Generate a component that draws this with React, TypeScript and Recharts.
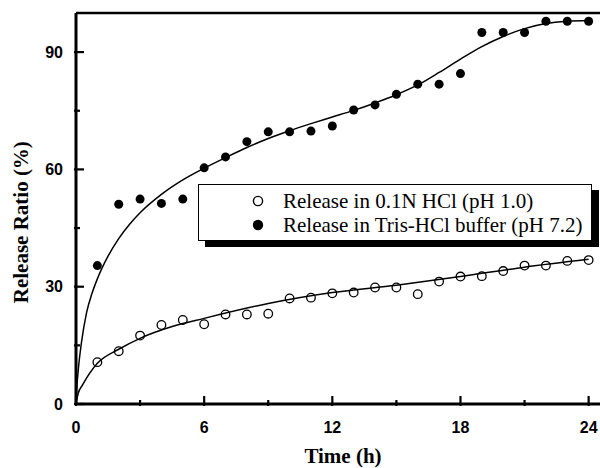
import React from 'react';
import { ComposedChart, Line, Scatter, XAxis, YAxis, ReferenceLine, Legend, Label } from 'recharts';

// Measured release data (time in h, release ratio in %)
const sampleTimes = [1, 2, 3, 4, 5, 6, 7, 8, 9, 10, 11, 12, 13, 14, 15, 16, 17, 18, 19, 20, 21, 22, 23, 24];
const releaseHCl = [10.7, 13.5, 17.5, 20.2, 21.5, 20.4, 22.9, 22.9, 23.1, 27.0, 27.2, 28.3, 28.5, 29.8, 29.8, 28.1, 31.3, 32.6, 32.7, 34.0, 35.4, 35.4, 36.6, 36.8];
const releaseTris = [35.4, 51.1, 52.4, 51.3, 52.4, 60.4, 63.2, 67.1, 69.6, 69.6, 69.8, 71.1, 75.2, 76.5, 79.2, 81.8, 81.8, 84.5, 95.0, 95.0, 95.0, 97.9, 97.9, 97.9];

// Fitted curves
const fitHClTimes = [0, 0.1, 0.3, 1, 2, 3, 4.5, 6, 9, 12, 15, 18, 21, 24];
const fitHClValues = [0, 2.7, 4.8, 10.4, 14.0, 16.8, 19.8, 21.9, 25.7, 28.5, 30.4, 32.6, 35.0, 37.0];
const fitTrisTimes = [0, 0.05, 0.12, 0.25, 0.5, 0.75, 1, 1.5, 2, 2.5, 3, 4, 5, 6, 7, 8, 9, 10, 11, 12, 13, 14, 15, 16, 17, 18, 19, 20, 21, 22, 23, 24];
const fitTrisValues = [0, 5.0, 9.5, 15.5, 23.5, 28.3, 32.0, 37.8, 42.3, 45.9, 48.9, 53.6, 57.3, 60.3, 63.0, 65.6, 67.9, 69.9, 71.7, 73.4, 75.1, 77.0, 79.1, 81.6, 84.8, 88.2, 91.4, 94.0, 96.0, 97.3, 97.9, 98.1];

// Axis ticks
const xTicks = [0, 3, 6, 9, 12, 15, 18, 21, 24];
const xLabelTicks = [0, 6, 12, 18, 24];
const yTicks = [0, 15, 30, 45, 60, 75, 90];
const yLabelTicks = [0, 30, 60, 90];

const legendLabels = ['Release in 0.1N HCl (pH 1.0)', 'Release in Tris-HCl buffer (pH 7.2)'];
const xTitle = 'Time (h)';
const yTitle = 'Release Ratio (%)';

const toPoints = (xs: number[], ys: number[]) => xs.map((x, i) => ({ x, y: ys[i] }));
const hclPoints = toPoints(sampleTimes, releaseHCl);
const trisPoints = toPoints(sampleTimes, releaseTris);
const hclFit = toPoints(fitHClTimes, fitHClValues);
const trisFit = toPoints(fitTrisTimes, fitTrisValues);

const tickFont = '"Liberation Sans", Arial, sans-serif';
const serifFont = '"Liberation Serif", "Times New Roman", serif';

const XTick = (props: any) => {
  const { x, y, payload } = props;
  const major = xLabelTicks.includes(payload.value);
  return (
    <g>
      <line x1={x} y1={y} x2={x} y2={y - (major ? 10 : 6)} stroke="#000" strokeWidth={2.2} />
      {major && (
        <text x={x} y={y + 27} textAnchor="middle" fontFamily={tickFont} fontWeight="bold" fontSize={16} fill="#000">
          {payload.value}
        </text>
      )}
    </g>
  );
};

const YTick = (props: any) => {
  const { x, y, payload } = props;
  const major = yLabelTicks.includes(payload.value);
  return (
    <g>
      <line x1={x} y1={y} x2={x + (major ? 10 : 6)} y2={y} stroke="#000" strokeWidth={2.2} />
      {major && (
        <text x={x - 11} y={y} textAnchor="end" dominantBaseline="central" fontFamily={tickFont} fontWeight="bold" fontSize={16} fill="#000">
          {payload.value}
        </text>
      )}
    </g>
  );
};

const OpenDot = (props: any) => (
  <circle cx={props.cx} cy={props.cy} r={4.3} fill="none" stroke="#000" strokeWidth={1.3} />
);
const FilledDot = (props: any) => <circle cx={props.cx} cy={props.cy} r={4.5} fill="#000" />;

const LegendBox = () => (
  <div
    style={{
      width: 394,
      height: 57,
      boxSizing: 'border-box',
      border: '1px solid #000',
      background: '#fff',
      boxShadow: '7px 6px 0 #000',
      position: 'relative',
      fontFamily: serifFont,
      fontSize: 21,
      color: '#000',
    }}
  >
    {legendLabels.map((label, i) => (
      <div key={label} style={{ position: 'absolute', left: 0, top: (i === 0 ? 16 : 40) - 12, height: 24, width: 390 }}>
        <svg width={14} height={24} style={{ position: 'absolute', left: 52, top: 0 }}>
          {i === 0 ? (
            <circle cx={7} cy={12} r={4.6} fill="none" stroke="#000" strokeWidth={1.4} />
          ) : (
            <circle cx={7} cy={12} r={5.2} fill="#000" />
          )}
        </svg>
        <span style={{ position: 'absolute', left: 84, top: 0, lineHeight: '24px', whiteSpace: 'nowrap' }}>{label}</span>
      </div>
    ))}
  </div>
);

export default function App() {
  return (
    <div style={{ position: 'absolute', left: 0, top: 0, width: 600, height: 468, overflow: 'hidden', background: '#fff' }}>
      <ComposedChart width={610} height={468} margin={{ top: 13, right: 0, bottom: 0, left: 0 }}>
        <XAxis
          type="number"
          dataKey="x"
          domain={[0, 25]}
          ticks={xTicks}
          interval={0}
          tickSize={0}
          tickLine={false}
          height={64}
          axisLine={{ stroke: '#000', strokeWidth: 3 }}
          tick={<XTick />}
        >
          <Label
            content={(p: any) => {
              const vb = p.viewBox;
              return (
                <text x={vb.x + vb.width / 2} y={vb.y + vb.height - 5} textAnchor="middle" fontFamily={serifFont} fontWeight="bold" fontSize={21} fill="#000">
                  {xTitle}
                </text>
              );
            }}
          />
        </XAxis>
        <YAxis
          type="number"
          dataKey="y"
          domain={[0, 100]}
          ticks={yTicks}
          interval={0}
          tickSize={0}
          tickLine={false}
          width={76}
          axisLine={{ stroke: '#000', strokeWidth: 3 }}
          tick={<YTick />}
        >
          <Label
            content={(p: any) => {
              const vb = p.viewBox;
              const cx = vb.x + 28.5;
              const cy = vb.y + vb.height * 0.535;
              return (
                <text x={cx} y={cy} transform={`rotate(-90, ${cx}, ${cy})`} textAnchor="middle" fontFamily={serifFont} fontWeight="bold" fontSize={21} fill="#000">
                  {yTitle}
                </text>
              );
            }}
          />
        </YAxis>
        <ReferenceLine y={100} stroke="#000" strokeWidth={2.5} ifOverflow="visible" />
        <Line data={hclFit} dataKey="y" type="monotone" stroke="#000" strokeWidth={1.5} dot={false} activeDot={false} legendType="none" isAnimationActive={false} />
        <Line data={trisFit} dataKey="y" type="monotone" stroke="#000" strokeWidth={1.5} dot={false} activeDot={false} legendType="none" isAnimationActive={false} />
        <Scatter data={hclPoints} dataKey="y" name={legendLabels[0]} shape={<OpenDot />} isAnimationActive={false} />
        <Scatter data={trisPoints} dataKey="y" name={legendLabels[1]} shape={<FilledDot />} isAnimationActive={false} />
        <Legend
          layout="horizontal"
          verticalAlign="middle"
          align="center"
          content={<LegendBox />}
          wrapperStyle={{ left: 198, top: 184, width: 394, height: 57 }}
        />
      </ComposedChart>
    </div>
  );
}
